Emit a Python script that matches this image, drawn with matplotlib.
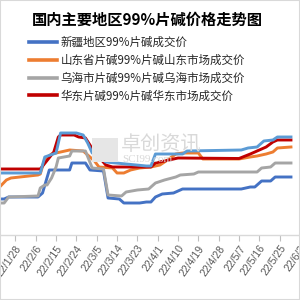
import matplotlib
matplotlib.use("Agg")
import matplotlib.pyplot as plt
import pandas as pd
from matplotlib.patches import Rectangle

plt.rcParams['font.family'] = ['Noto Sans CJK SC', 'DejaVu Sans']

title = "国内主要地区99%片碱价格走势图"

# 新疆地区99%片碱成交价
xj_dates = ["2022-01-21", "2022-01-23", "2022-01-25", "2022-02-07", "2022-02-09", "2022-02-12",
            "2022-02-21", "2022-02-22", "2022-02-28", "2022-03-02", "2022-03-08", "2022-03-10",
            "2022-03-15", "2022-03-17", "2022-03-24", "2022-03-27", "2022-03-29", "2022-03-31",
            "2022-04-03", "2022-04-08", "2022-04-12", "2022-05-08", "2022-05-12", "2022-05-14",
            "2022-05-17", "2022-05-21", "2022-05-23", "2022-05-30"]
xj_vals = [3720, 3720, 3760, 3760, 3840, 4300,
           4300, 4440, 4440, 4300, 4280, 3740,
           3720, 3640, 3640, 3660, 3660, 3760,
           3820, 3840, 3920, 3920, 3960, 3960,
           4080, 4080, 4160, 4160]

# 山东省片碱99%片碱山东市场成交价
sd_dates = ["2022-01-21", "2022-01-24", "2022-01-26", "2022-02-07", "2022-02-08", "2022-02-10",
            "2022-02-13", "2022-02-17", "2022-02-21", "2022-02-27", "2022-03-01", "2022-03-04",
            "2022-03-06", "2022-03-12", "2022-03-14", "2022-03-17", "2022-03-20", "2022-03-24",
            "2022-03-29", "2022-04-02", "2022-04-06", "2022-04-09", "2022-04-12", "2022-04-19",
            "2022-04-21", "2022-05-07", "2022-05-12", "2022-05-15", "2022-05-19", "2022-05-22",
            "2022-05-24", "2022-05-30"]
sd_vals = [3960, 4100, 4140, 4200, 4220, 4520,
           4620, 4660, 4700, 4680, 4600, 4480,
           4360, 4340, 4240, 4240, 4300, 4340,
           4360, 4400, 4520, 4620, 4640, 4640,
           4520, 4520, 4560, 4580, 4620, 4660,
           4740, 4760]

# 乌海市片碱99%片碱乌海市场成交价
wh_dates = ["2022-01-21", "2022-01-23", "2022-01-25", "2022-02-07", "2022-02-08", "2022-02-10",
            "2022-02-11", "2022-02-13", "2022-02-15", "2022-02-16", "2022-02-21", "2022-02-22",
            "2022-02-28", "2022-03-03", "2022-03-08", "2022-03-10", "2022-03-16", "2022-03-18",
            "2022-03-23", "2022-03-28", "2022-03-31", "2022-04-04", "2022-04-09", "2022-04-11",
            "2022-04-17", "2022-04-19", "2022-05-15", "2022-05-17", "2022-05-21", "2022-05-23",
            "2022-05-30"]
wh_vals = [3640, 3640, 3760, 3780, 3940, 4000,
           4000, 4140, 4360, 4540, 4580, 4680,
           4680, 4340, 4320, 3800, 3780, 3860,
           3900, 3920, 4040, 4100, 4160, 4200,
           4220, 4260, 4260, 4340, 4360, 4440,
           4440]

# 华东片碱99%片碱华东市场成交价
hd_dates = ["2022-01-21", "2022-02-08", "2022-02-14", "2022-02-16", "2022-02-17", "2022-02-23",
            "2022-02-25", "2022-02-28", "2022-03-02", "2022-03-04", "2022-03-06", "2022-03-09",
            "2022-03-12", "2022-03-29", "2022-03-31", "2022-04-08", "2022-04-10", "2022-05-07",
            "2022-05-12", "2022-05-15", "2022-05-19", "2022-05-22", "2022-05-24", "2022-05-30"]
hd_vals = [4320, 4320, 4660, 4960, 5000, 5000,
           4960, 4940, 4800, 4640, 4560, 4400,
           4360, 4360, 4440, 4520, 4540, 4530,
           4620, 4680, 4760, 4860, 4900, 4900]

# fifth series (legend entry not visible)
lb_dates = ["2022-01-21", "2022-02-08", "2022-02-10", "2022-02-15", "2022-02-17", "2022-02-24",
            "2022-02-27", "2022-03-01", "2022-03-03", "2022-03-06", "2022-03-09", "2022-03-27",
            "2022-03-29", "2022-03-31", "2022-04-12", "2022-04-14", "2022-05-08", "2022-05-11",
            "2022-05-15", "2022-05-18", "2022-05-22", "2022-05-24", "2022-05-30"]
lb_vals = [4240, 4240, 4560, 4640, 5040, 5040,
           5000, 4840, 4640, 4560, 4460, 4380,
           4380, 4620, 4620, 4680, 4700, 4740,
           4760, 4880, 4900, 4960, 4960]

tick_labels = ["22/1/28", "22/2/6", "22/2/15", "22/2/24", "22/3/5", "22/3/14", "22/3/23",
               "22/4/1", "22/4/10", "22/4/19", "22/4/28", "22/5/7", "22/5/16", "22/5/25", "22/6/3"]

series = [
    ("新疆地区99%片碱成交价", xj_dates, xj_vals, "#4472C4"),
    ("山东省片碱99%片碱山东市场成交价", sd_dates, sd_vals, "#ED7D31"),
    ("乌海市片碱99%片碱乌海市场成交价", wh_dates, wh_vals, "#A5A5A5"),
    ("华东片碱99%片碱华东市场成交价", hd_dates, hd_vals, "#C00000"),
    (None, lb_dates, lb_vals, "#5B9BD5"),
]

fig = plt.figure(figsize=(3, 3), dpi=100)
ax = fig.add_axes([0.0, 1 - 235 / 300, 1.0, 230 / 300])

handles = []
for name, d, v, c in series:
    ln, = ax.plot(pd.to_datetime(d), v, color=c, lw=2.1, solid_joinstyle='round', zorder=3)
    if name:
        ln.set_label(name)
        handles.append(ln)

t0 = pd.Timestamp("2022-01-28")
ax.set_xlim(t0 - pd.Timedelta(days=6.83), t0 + pd.Timedelta(days=121.3))
ax.set_ylim(3000, 7600)

tick_dates = pd.to_datetime(["20" + s.replace("/", "-") for s in tick_labels], format="%Y-%m-%d")
ax.set_xticks(tick_dates)
ax.set_xticklabels(tick_labels, rotation=55, ha='right', va='top', rotation_mode='anchor',
                   fontsize=7.5, color='#595959', family=['Liberation Sans', 'DejaVu Sans'])
ax.tick_params(axis='x', length=4, color='#bfbfbf', pad=2)
ax.set_yticks([])
for s in ['left', 'right', 'top']:
    ax.spines[s].set_visible(False)
ax.spines['bottom'].set_color('#d9d9d9')
ax.spines['bottom'].set_linewidth(1.0)
ax.patch.set_alpha(0)

# watermark
fig.patches.append(Rectangle((92 / 300, 1 - 162 / 300), 26 / 300, 24 / 300, transform=fig.transFigure,
                             facecolor='#e6e6e6', edgecolor='none', zorder=0))
fig.text(121 / 300, 1 - 144 / 300, "卓创资讯", fontsize=14.5, color='#d9d9d9', va='center', ha='left', zorder=0)
fig.text(122 / 300, 1 - 160 / 300, "SCI99.com", fontsize=8, color='#d9d9d9', va='center', ha='left',
         family=['Liberation Serif', 'DejaVu Serif'], zorder=0)

fig.text(147 / 300, 1 - 20 / 300, title, fontsize=11, fontweight='bold', ha='center', va='center',
         color='#000000')

leg = fig.legend(handles=handles, loc='upper left', bbox_to_anchor=(29 / 300, 1 - 36 / 300),
                 frameon=False, fontsize=8.3, handlelength=2.4, handletextpad=0.35,
                 labelspacing=0.42, borderaxespad=0, borderpad=0)
for t in leg.get_texts():
    t.set_color('#262626')
for l in leg.get_lines():
    l.set_linewidth(2.6)

# chart border
fig.patches.append(Rectangle((0, 0), 1, 1, transform=fig.transFigure, fill=False,
                             edgecolor='#d9d9d9', lw=1.5, zorder=10))

fig.savefig("out.png", dpi=100)
